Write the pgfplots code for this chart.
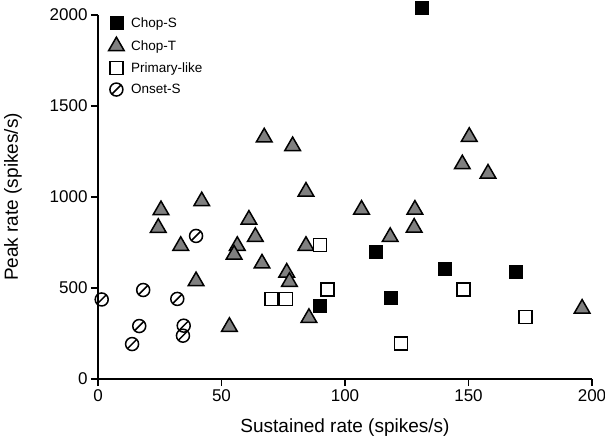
\documentclass[border=0pt]{standalone}
\usepackage{fontspec}
\setmainfont{Liberation Sans}
\usepackage{pgfplots}
\pgfplotsset{compat=1.18}
\definecolor{trigray}{RGB}{128,128,128}
\pgfdeclareplotmark{oslash}{%
  \pgfpathcircle{\pgfpointorigin}{\pgfplotmarksize}%
  \pgfusepathqstroke
  \pgfpathmoveto{\pgfpoint{-0.72\pgfplotmarksize}{-0.72\pgfplotmarksize}}%
  \pgfpathlineto{\pgfpoint{0.72\pgfplotmarksize}{0.72\pgfplotmarksize}}%
  \pgfusepathqstroke
}
\begin{document}
\begin{tikzpicture}
\begin{axis}[
  scale only axis, width=494pt, height=364pt,
  xmin=0, xmax=200, ymin=0, ymax=2000,
  axis lines*=left,
  axis line style={line width=1.3pt, black},
  xtick={0,50,100,150,200}, ytick={0,500,1000,1500,2000},
  tick align=outside, major tick length=7pt,
  every tick/.style={line width=1.3pt, black},
  /pgf/number format/assume math mode=true,
  /pgf/number format/1000 sep={},
  ticklabel style={font=\fontsize{17}{20}\selectfont},
  xlabel={Sustained rate (spikes/s)},
  ylabel={Peak rate (spikes/s)},
  label style={font=\fontsize{19}{22}\selectfont},
  xlabel style={at={(axis description cs:0.5,-0.1346)}, anchor=center},
  ylabel style={at={(axis description cs:-0.172,0.5)}, anchor=center},
  clip=false,
  legend style={at={(axis description cs:0.015,1.005)}, anchor=north west,
    draw=none, fill=none, font=\fontsize{13.5}{16}\selectfont,
    row sep=6.5pt, column sep=5pt},
  legend cell align=left,
]
\addplot[only marks, mark=square*, mark size=6.5pt, draw=black, fill=black]
  coordinates {(131.2,2038) (112.4,698) (140.5,604) (169.2,590) (118.6,449) (89.9,401)};
\addlegendentry{Chop-S}
\addplot[only marks, mark=triangle*, mark size=9pt, draw=black, fill=trigray, line width=1.5pt]
  coordinates {(25.5,928) (24.4,831) (33.5,732) (42,977) (39.7,538) (53.2,287)
   (56.4,732) (55.1,684) (61.1,876) (63.7,781) (66.4,635) (67.3,1328) (76.4,585)
   (77.5,534) (78.8,1280) (84.2,1030) (84.2,732) (85.4,336) (106.7,931) (118.3,781)
   (128.3,931) (128,832) (147.5,1180) (150.3,1331) (157.9,1129) (196,387)};
\addlegendentry{Chop-T}
\addplot[only marks, mark=square*, mark size=6.5pt, draw=black, fill=white, line width=1.5pt]
  coordinates {(89.9,736) (93,493) (70.3,440) (76.1,440) (147.9,493) (173.1,342) (122.7,196)};
\addlegendentry{Primary-like}
\addplot[only marks, mark=oslash, mark size=6.5pt, draw=black, line width=1.5pt]
  coordinates {(1.5,437) (18.3,489) (16.7,291) (13.8,192) (32.1,440) (34.7,293) (34.4,238) (39.7,786)};
\addlegendentry{Onset-S}
\end{axis}
\pgfresetboundingbox
\useasboundingbox (-98pt,-63pt) rectangle (507pt,379pt);
\end{tikzpicture}
\end{document}
